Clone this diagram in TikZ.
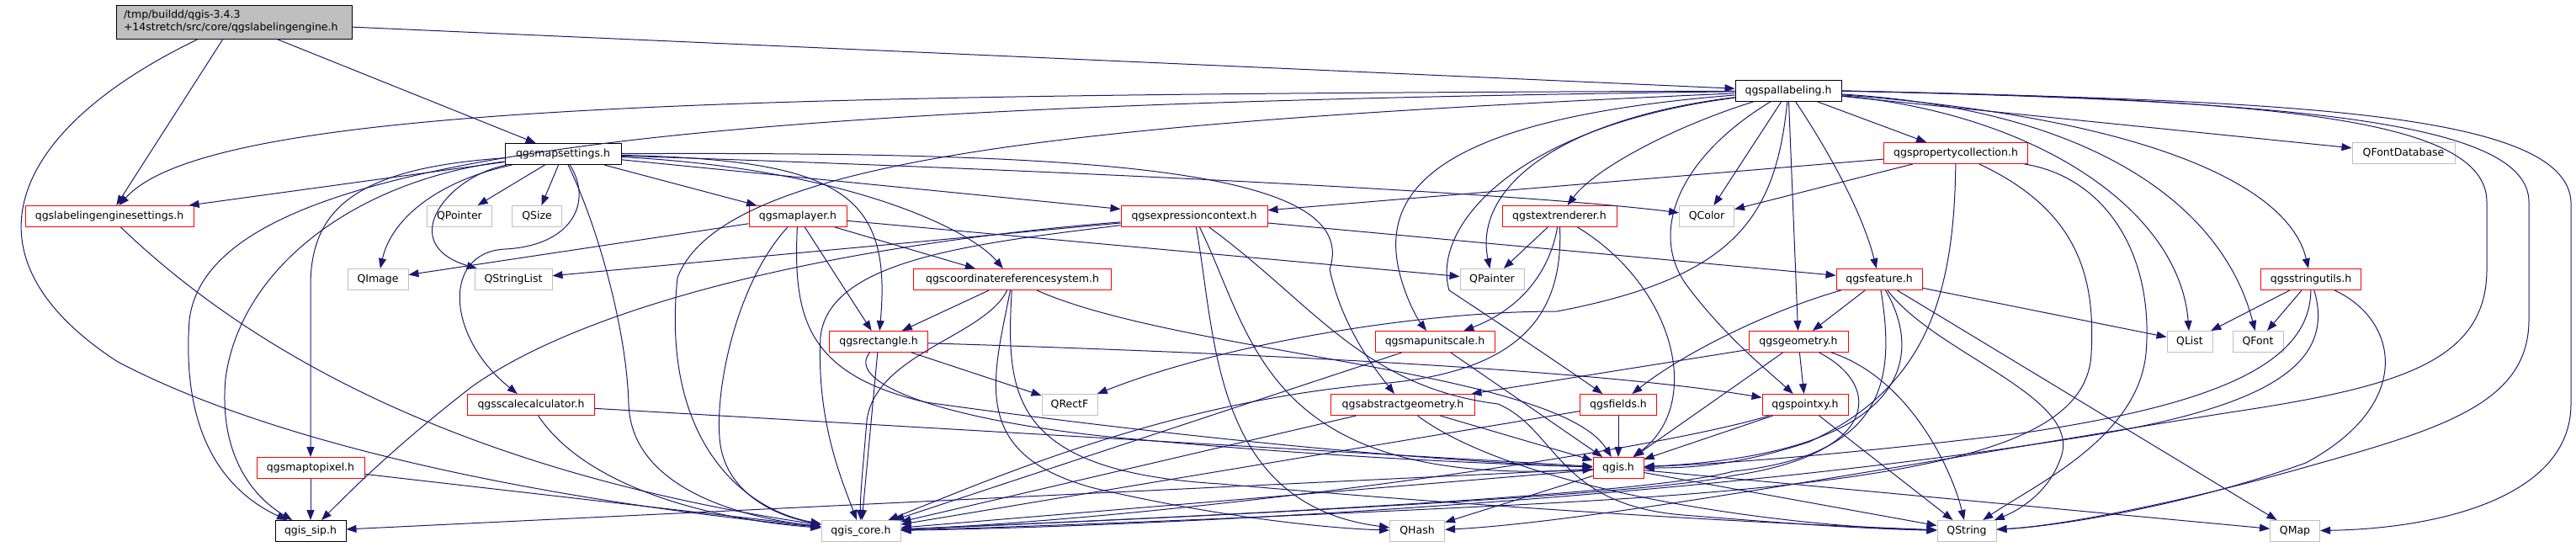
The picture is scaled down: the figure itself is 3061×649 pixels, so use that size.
\documentclass[tikz,border=0pt]{standalone}
\usepackage{fontspec}
\setmainfont{DejaVu Sans}
\usepackage{tikz}
\usetikzlibrary{arrows.meta}
\definecolor{edgeblue}{HTML}{191970}
\definecolor{boxgrey}{HTML}{BFBFBF}
\tikzset{
  box/.style={draw, font=\fontsize{12.5}{15}\selectfont, inner sep=0pt,
              minimum height=25pt, line width=1pt, fill=white},
  file/.style={box, draw=black},
  cut/.style={box, draw=red},
  sys/.style={box, draw=boxgrey},
  main/.style={box, draw=black, fill=boxgrey, minimum height=40pt},
  dep/.style={-{Triangle[length=12pt,width=9pt]}, draw=edgeblue, line width=1pt},
}

\begin{document}
\begin{tikzpicture}[x=1pt, y=-1pt]
  \useasboundingbox (0,0) rectangle (3061,649);
  % top
  \node[main, minimum width=280pt, text width=262pt, align=left] (lbe) at (278,26)
    {/tmp/buildd/qgis-3.4.3\\+14stretch/src/core/qgslabelingengine.h};
  \node[file, minimum width=126pt] (pal) at (2125,108) {qgspallabeling.h};
  \node[file, minimum width=138pt] (ms) at (669,183) {qgsmapsettings.h};
  \node[cut, minimum width=171pt] (prop) at (2324,182) {qgspropertycollection.h};
  \node[sys, minimum width=122pt] (qfdb) at (2856,182) {QFontDatabase};
  % second level
  \node[cut, minimum width=200pt] (les) at (130,257) {qgslabelingenginesettings.h};
  \node[sys, minimum width=77pt] (qpointer) at (546,257) {QPointer};
  \node[sys, minimum width=59pt] (qsize) at (638,257) {QSize};
  \node[cut, minimum width=116pt] (maplayer) at (948,257) {qgsmaplayer.h};
  \node[cut, minimum width=174pt] (exprctx) at (1419,257) {qgsexpressioncontext.h};
  \node[cut, minimum width=136pt] (textrend) at (1853,257) {qgstextrenderer.h};
  \node[sys, minimum width=65pt] (qcolor) at (2028,257) {QColor};
  \node[sys, minimum width=72pt] (qimage) at (449,332) {QImage};
  \node[sys, minimum width=92pt] (qstringlist) at (610,332) {QStringList};
  \node[cut, minimum width=235pt] (crs) at (1203,332) {qgscoordinatereferencesystem.h};
  \node[sys, minimum width=76pt] (qpainter) at (1773,332) {QPainter};
  \node[cut, minimum width=102pt] (feature) at (2233,332) {qgsfeature.h};
  \node[cut, minimum width=119pt] (strutils) at (2746,332) {qgsstringutils.h};
  % middle
  \node[cut, minimum width=117pt] (rect) at (1044,406) {qgsrectangle.h};
  \node[cut, minimum width=142pt] (mapunit) at (1705,406) {qgsmapunitscale.h};
  \node[cut, minimum width=118pt] (geometry) at (2137,406) {qgsgeometry.h};
  \node[sys, minimum width=54pt] (qlist) at (2602,406) {QList};
  \node[sys, minimum width=60pt] (qfont) at (2683,406) {QFont};
  \node[cut, minimum width=151pt] (scalecalc) at (631,481) {qgsscalecalculator.h};
  \node[sys, minimum width=66pt] (qrectf) at (1271,481) {QRectF};
  \node[cut, minimum width=171pt] (absgeom) at (1667,481) {qgsabstractgeometry.h};
  \node[cut, minimum width=91pt] (fields) at (1923,481) {qgsfields.h};
  \node[cut, minimum width=102pt] (pointxy) at (2145,481) {qgspointxy.h};
  \node[cut, minimum width=128pt] (maptopixel) at (369,556) {qgsmaptopixel.h};
  \node[cut, minimum width=60pt] (qgis) at (1923,556) {qgis.h};
  % bottom
  \node[file, minimum width=84pt] (sip) at (369,631) {qgis\_sip.h};
  \node[sys, minimum width=94pt] (core) at (1023,631) {qgis\_core.h};
  \node[sys, minimum width=65pt] (qhash) at (1684,631) {QHash};
  \node[sys, minimum width=70pt] (qstring) at (2337,631) {QString};
  \node[sys, minimum width=59pt] (qmap) at (2727,631) {QMap};

  % qgslabelingengine.h
  \draw[dep] (lbe) -- (pal);
  \draw[dep] (lbe) -- (les);
  \draw[dep] (lbe) -- (ms);
  \draw[dep] (lbe) .. controls (20,150) and (-60,300) .. (140,430)
    .. controls (350,540) and (700,600) .. (core);
  % qgspallabeling.h
  \draw[dep] (pal) .. controls (900,112) and (250,122) .. (les);
  \draw[dep] (pal) .. controls (800,125) and (250,180) .. (225,380)
    .. controls (215,520) and (270,585) .. (sip);
  \draw[dep] (pal) .. controls (1300,145) and (860,185) .. (805,330)
    .. controls (785,520) and (880,605) .. (core);
  \draw[dep] (pal) .. controls (1720,140) and (1640,220) .. (1662,320)
    .. controls (1670,355) and (1685,380) .. (mapunit);
  \draw[dep] (pal) .. controls (1990,150) and (1895,200) .. (textrend);
  \draw[dep] (pal) .. controls (1860,140) and (1750,220) .. (qpainter);
  \draw[dep] (pal) .. controls (1800,150) and (1700,270) .. (1722,345)
    .. controls (1760,370) and (1850,430) .. (fields);
  \draw[dep] (pal) -- (qcolor);
  \draw[dep] (pal) .. controls (2180,190) and (2215,260) .. (feature);
  \draw[dep] (pal) -- (geometry);
  \draw[dep] (pal) -- (prop);
  \draw[dep] (pal) -- (qfdb);
  \draw[dep] (pal) .. controls (2550,140) and (2720,220) .. (strutils);
  \draw[dep] (pal) .. controls (2420,135) and (2590,250) .. (qlist);
  \draw[dep] (pal) .. controls (2480,130) and (2640,240) .. (qfont);
  \draw[dep] (pal.east) .. controls (2700,120) and (3050,130) .. (3055,240)
    -- (3055,480) .. controls (3055,590) and (2900,628) .. (qmap);
  \draw[dep] (pal.east) .. controls (2700,120) and (3005,140) .. (3005,240)
    -- (3005,380) .. controls (3005,480) and (2900,510) .. (2740,555)
    .. controls (2600,595) and (2450,625) .. (qstring);
  \draw[dep] (pal.east) .. controls (2700,118) and (2955,140) .. (2955,240)
    -- (2955,320) .. controls (2955,430) and (2850,460) .. (2650,490)
    .. controls (2300,545) and (1900,620) .. (qhash);
  \draw[dep] (pal) .. controls (2110,260) and (2060,330) .. (1850,370)
    .. controls (1680,370) and (1450,410) .. (qrectf);
  \draw[dep] (pal) .. controls (1990,190) and (1960,280) .. (2005,340)
    .. controls (2050,400) and (2100,440) .. (pointxy);
  % qgsmapsettings.h
  \draw[dep] (ms) -- (les);
  \draw[dep] (ms) .. controls (420,215) and (285,320) .. (268,450)
    .. controls (260,540) and (300,590) .. (sip);
  \draw[dep] (ms) .. controls (420,200) and (369,250) .. (369,340) -- (maptopixel);
  \draw[dep] (ms) .. controls (520,215) and (465,260) .. (qimage);
  \draw[dep] (ms) .. controls (530,210) and (470,290) .. (qstringlist);
  \draw[dep] (ms) -- (qpointer);
  \draw[dep] (ms) -- (qsize);
  \draw[dep] (ms) .. controls (705,240) and (680,292) .. (600,296)
    .. controls (525,300) and (530,400) .. (scalecalc);
  \draw[dep] (ms) .. controls (715,280) and (745,400) .. (747,480)
    .. controls (750,580) and (880,615) .. (core);
  \draw[dep] (ms) -- (maplayer);
  \draw[dep] (ms) .. controls (1200,200) and (1800,228) .. (qcolor);
  \draw[dep] (ms) -- (exprctx);
  \draw[dep] (ms) .. controls (1000,200) and (1150,270) .. (crs);
  \draw[dep] (ms) .. controls (1000,190) and (1060,230) .. (rect);
  \draw[dep] (ms) .. controls (1300,180) and (1620,200) .. (1580,320)
    .. controls (1595,390) and (1635,440) .. (absgeom);
  % qgsmaplayer.h
  \draw[dep] (maplayer) -- (qimage);
  \draw[dep] (maplayer) -- (qpainter);
  \draw[dep] (maplayer) -- (crs);
  \draw[dep] (maplayer) -- (rect);
  \draw[dep] (maplayer) .. controls (880,330) and (850,450) .. (855,520)
    .. controls (860,590) and (930,615) .. (core);
  \draw[dep] (maplayer) .. controls (942,380) and (960,445) .. (1100,478)
    .. controls (1400,520) and (1700,548) .. (qgis);
  % qgsexpressioncontext.h
  \draw[dep] (exprctx) -- (qstringlist);
  \draw[dep] (exprctx) .. controls (1000,290) and (700,360) .. (560,460)
    .. controls (470,530) and (420,580) .. (sip);
  \draw[dep] (exprctx) .. controls (1150,290) and (985,310) .. (975,400)
    .. controls (970,500) and (1000,570) .. (core);
  \draw[dep] (exprctx) .. controls (1445,400) and (1440,600) .. (qhash);
  \draw[dep] (exprctx) .. controls (1490,400) and (1500,580) .. (qgis);
  \draw[dep] (exprctx) .. controls (1560,360) and (1620,460) .. (1780,480)
    .. controls (1850,510) and (1850,600) .. (2000,612)
    .. controls (2100,620) and (2200,628) .. (qstring);
  \draw[dep] (exprctx) -- (feature);
  % qgspropertycollection.h
  \draw[dep] (prop) -- (exprctx);
  \draw[dep] (prop) -- (qcolor);
  \draw[dep] (prop) .. controls (2322,350) and (2290,460) .. (2150,525)
    .. controls (2060,555) and (2000,556) .. (qgis);
  \draw[dep] (prop) .. controls (2470,250) and (2490,330) .. (2485,420)
    .. controls (2480,530) and (2300,575) .. (1800,600)
    .. controls (1400,620) and (1150,628) .. (core);
  \draw[dep] (prop) .. controls (2500,210) and (2560,300) .. (2550,420)
    .. controls (2540,520) and (2420,575) .. (qstring);
  % qgstextrenderer.h
  \draw[dep] (textrend) -- (qpainter);
  \draw[dep] (textrend) .. controls (1840,330) and (1800,370) .. (mapunit);
  \draw[dep] (textrend) .. controls (1990,340) and (2025,480) .. (qgis);
  \draw[dep] (textrend) .. controls (1858,380) and (1800,440) .. (1650,455)
    .. controls (1400,475) and (1200,560) .. (core);
  % qgsfeature.h
  \draw[dep] (feature) -- (geometry);
  \draw[dep] (feature) .. controls (2100,370) and (2000,420) .. (fields);
  \draw[dep] (feature) -- (qlist);
  \draw[dep] (feature) -- (qmap);
  \draw[dep] (feature) .. controls (2300,420) and (2470,470) .. (2450,540)
    .. controls (2435,590) and (2390,610) .. (qstring);
  \draw[dep] (feature) .. controls (2250,440) and (2250,540) .. (2060,560)
    .. controls (1950,590) and (1400,615) .. (core);
  \draw[dep] (feature) .. controls (2290,430) and (2260,540) .. (qgis);
  % qgsgeometry.h
  \draw[dep] (geometry) -- (pointxy);
  \draw[dep] (geometry) -- (absgeom);
  \draw[dep] (geometry) -- (qgis);
  \draw[dep] (geometry) .. controls (2240,460) and (2230,540) .. (2060,565)
    .. controls (1950,590) and (1400,615) .. (core);
  \draw[dep] (geometry) .. controls (2270,450) and (2320,560) .. (qstring);
  % qgspointxy.h
  \draw[dep] (pointxy) .. controls (1950,540) and (1400,615) .. (core);
  \draw[dep] (pointxy) -- (qgis);
  \draw[dep] (pointxy) -- (qstring);
  % qgsstringutils.h
  \draw[dep] (strutils) -- (qlist);
  \draw[dep] (strutils) -- (qfont);
  \draw[dep] (strutils) .. controls (2745,430) and (2640,480) .. (2400,515)
    .. controls (2150,545) and (2020,552) .. (qgis);
  \draw[dep] (strutils) .. controls (2775,430) and (2700,480) .. (2500,515)
    .. controls (2050,590) and (1400,625) .. (core);
  \draw[dep] (strutils) .. controls (2850,380) and (2870,480) .. (2740,550)
    .. controls (2600,600) and (2450,625) .. (qstring);
  % qgsrectangle.h
  \draw[dep] (rect) -- (qrectf);
  \draw[dep] (rect) .. controls (1500,420) and (1900,440) .. (pointxy);
  \draw[dep] (rect) -- (core);
  \draw[dep] (rect) .. controls (1000,460) and (1150,505) .. (1350,522)
    .. controls (1600,545) and (1800,552) .. (qgis);
  % qgscoordinatereferencesystem.h
  \draw[dep] (crs) -- (rect);
  \draw[dep] (crs) .. controls (1170,400) and (1040,420) .. (1030,500)
    .. controls (1025,560) and (1022,590) .. (core);
  \draw[dep] (crs) .. controls (1180,450) and (1150,540) .. (1300,580)
    .. controls (1450,615) and (1580,628) .. (qhash);
  \draw[dep] (crs) .. controls (1400,420) and (1850,440) .. (qgis);
  \draw[dep] (crs) .. controls (1195,470) and (1200,560) .. (1450,575)
    .. controls (1850,610) and (2150,624) .. (qstring);
  % lower files
  \draw[dep] (les) .. controls (300,420) and (550,560) .. (core);
  \draw[dep] (scalecalc) .. controls (690,570) and (820,615) .. (core);
  \draw[dep] (scalecalc) -- (qgis);
  \draw[dep] (maptopixel) -- (sip);
  \draw[dep] (maptopixel) -- (core);
  \draw[dep] (mapunit) -- (core);
  \draw[dep] (mapunit) -- (qgis);
  \draw[dep] (absgeom) -- (core);
  \draw[dep] (absgeom) -- (qgis);
  \draw[dep] (absgeom) .. controls (1800,580) and (2100,625) .. (qstring);
  \draw[dep] (fields) -- (core);
  \draw[dep] (fields) -- (qgis);
  % qgis.h
  \draw[dep] (qgis) -- (core);
  \draw[dep] (qgis) -- (qhash);
  \draw[dep] (qgis) -- (qstring);
  \draw[dep] (qgis) -- (qmap);
  \draw[dep] (qgis) -- (sip);
\end{tikzpicture}
\end{document}
